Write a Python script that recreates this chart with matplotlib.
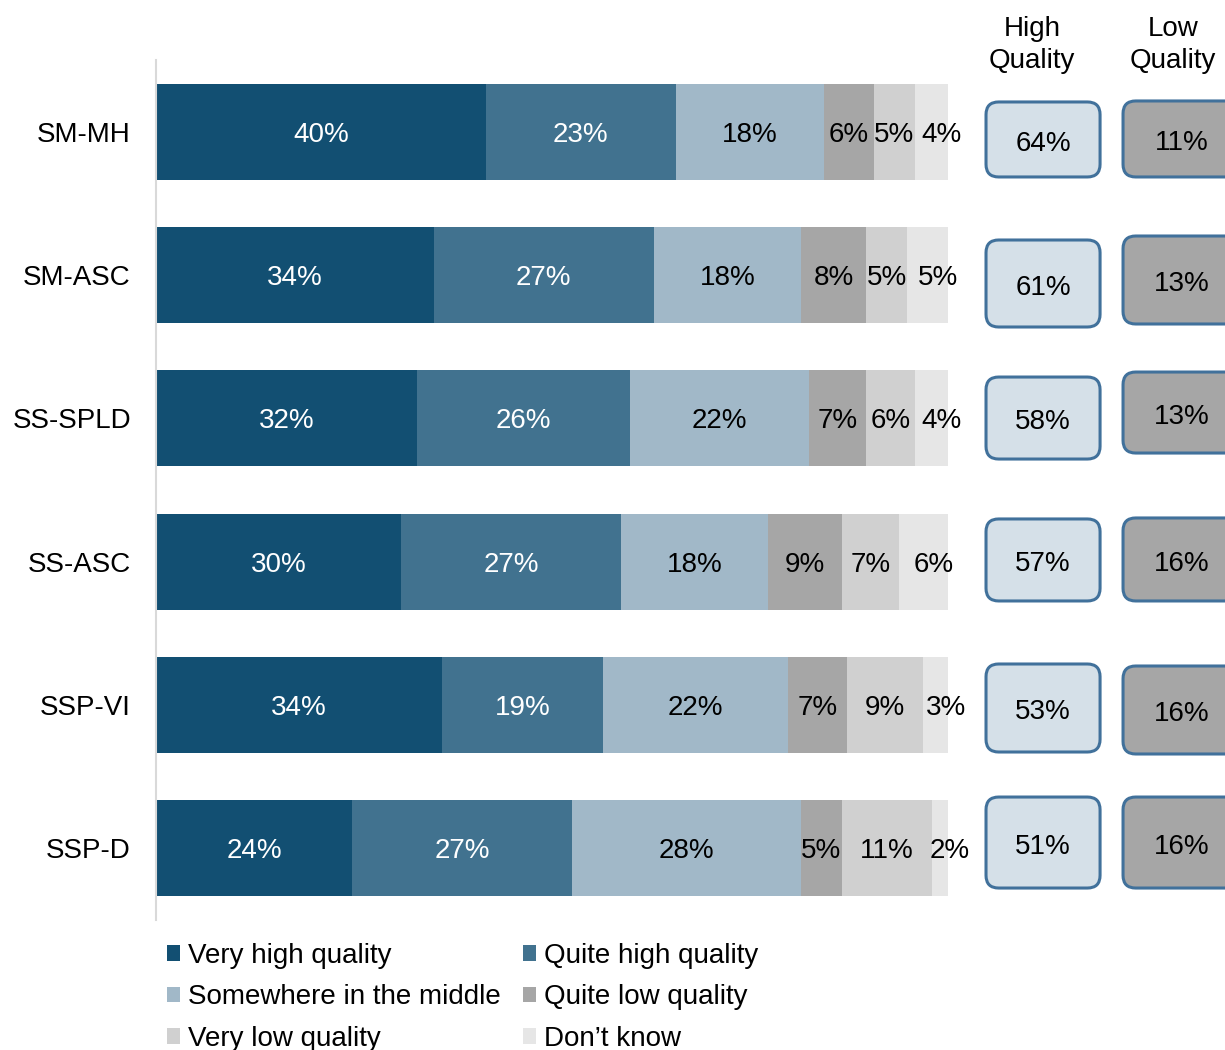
import matplotlib.pyplot as plt
import numpy as np
from matplotlib.patches import FancyBboxPatch, Patch

plt.rcParams['font.family'] = ['Liberation Sans', 'DejaVu Sans']

# survey groups, top to bottom
groups = ['SM-MH', 'SM-ASC', 'SS-SPLD', 'SS-ASC', 'SSP-VI', 'SSP-D']
very_high = [40, 34, 32, 30, 34, 24]
quite_high = [23, 27, 26, 27, 19, 27]
middle = [18, 18, 22, 18, 22, 28]
quite_low = [6, 8, 7, 9, 7, 5]
very_low = [5, 5, 6, 7, 9, 11]
dont_know = [4, 5, 4, 6, 3, 2]
# summary columns
high_quality = [64, 61, 58, 57, 53, 51]
low_quality = [11, 13, 13, 16, 16, 16]

series_names = ['Very high quality', 'Quite high quality', 'Somewhere in the middle',
                'Quite low quality', 'Very low quality', 'Don\u2019t know']
colors = ['#124f72', '#41728f', '#a1b8c8', '#a6a6a6', '#d0d0d0', '#e6e6e6']
text_colors = ['white', 'white', 'black', 'black', 'black', 'black']

# hand placed summary boxes (pixel offset from row centre, pixel height)
high_box_dy = [7.8, 8.5, -0.3, -1.7, 3, -5.8]
high_box_h = [75, 87, 82, 82, 88, 91]
low_box_dy = [7.3, 5, -5.8, -2.2, 5, -5.8]
low_box_h = [76, 88, 81, 83, 88, 91]

fig = plt.figure(figsize=(12.25, 10.5), dpi=100)
ax = fig.add_axes([156 / 1225, 1 - 920 / 1050, 792 / 1225, 860 / 1050])
row_px = 860 / len(groups)

vals = np.array([very_high, quite_high, middle, quite_low, very_low, dont_know], dtype=float)
shares = vals / vals.sum(axis=0)
y = np.arange(len(groups))
left = np.zeros(len(groups))
for i, name in enumerate(series_names):
    ax.barh(y, shares[i], left=left, height=0.67, color=colors[i], label=name)
    # last segment labels sit a little to the right
    nudge = 0.013 if i == len(series_names) - 1 else 0
    for j in range(len(groups)):
        ax.text(left[j] + shares[i][j] / 2 + nudge, y[j] + 0.02, '%d%%' % vals[i][j],
                ha='center', va='center', fontsize=20, color=text_colors[i])
    left += shares[i]

ax.set_xlim(0, 1)
ax.set_ylim(len(groups) - 0.5, -0.5)
ax.set_yticks(y)
ax.set_yticklabels(groups, fontsize=20)
ax.tick_params(axis='y', length=0, pad=18)
ax.set_xticks([])
for s in ['top', 'right', 'bottom']:
    ax.spines[s].set_visible(False)
ax.spines['left'].set_color('#d9d9d9')
ax.spines['left'].set_linewidth(1.5)

# rounded summary boxes
aspect = (792 / 1225 * 12.25) / (860 / 1050 * 10.5) * len(groups)
for j in range(len(groups)):
    for x0, x1, val, fc, dy, h in [
            (1.048, 1.192, high_quality[j], '#d5e0e8', high_box_dy[j], high_box_h[j]),
            (1.221, 1.37, low_quality[j], '#a6a6a6', low_box_dy[j], low_box_h[j])]:
        yc = y[j] + dy / row_px
        hh = h / row_px
        box = FancyBboxPatch((x0, yc - hh / 2), x1 - x0, hh,
                             boxstyle='round,pad=0,rounding_size=0.016',
                             mutation_aspect=aspect, facecolor=fc,
                             edgecolor='#41719b', linewidth=2.2, clip_on=False)
        ax.add_patch(box)
        ax.text((x0 + x1) / 2, yc + 0.03, '%d%%' % val, ha='center', va='center',
                fontsize=20)

fig.text(1032 / 1225, 1 - 45 / 1050, 'High\nQuality', ha='center', va='center',
         fontsize=20, linespacing=1.3)
fig.text(1173 / 1225, 1 - 45 / 1050, 'Low\nQuality', ha='center', va='center',
         fontsize=20, linespacing=1.3)

# legend, filled row by row
handles = [Patch(facecolor=c, edgecolor='none') for c in colors]
order = [0, 2, 4, 1, 3, 5]
fig.legend([handles[k] for k in order], [series_names[k] for k in order],
           loc='upper left', bbox_to_anchor=(153 / 1225, 1 - 929 / 1050), ncol=2,
           frameon=False, fontsize=20, handlelength=0.47, handleheight=0.47,
           handletextpad=0.28, labelspacing=0.56, columnspacing=0.8, borderpad=0)

fig.savefig('out.png', dpi=100)
